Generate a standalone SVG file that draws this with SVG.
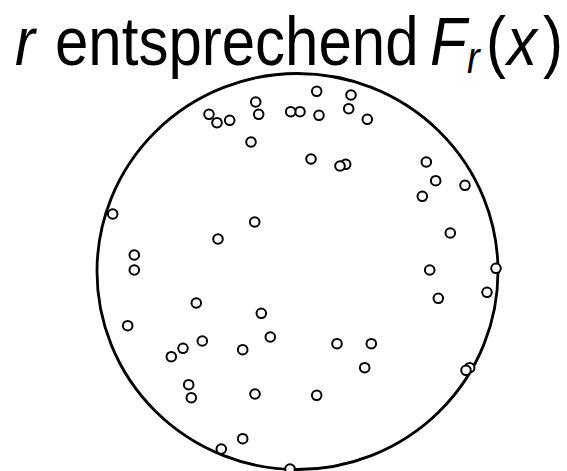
<svg xmlns="http://www.w3.org/2000/svg" width="567" height="471" viewBox="0 0 567 471">
<style>
.ttl{font-family:"Liberation Sans",Arial,sans-serif;font-size:60px;fill:#000}
.it{font-style:italic}
.pt{fill:#fff;stroke:#000;stroke-width:2}
.ring{fill:none;stroke:#000;stroke-width:2.8}
</style>
<rect width="567" height="471" fill="#fff"/>
<g id="title" transform="translate(0,65) scale(1,1.15)">
<text class="ttl" y="0"><tspan class="it" x="15">r</tspan><tspan x="55">entsprechend</tspan><tspan class="it" x="430">F</tspan><tspan class="it" x="467" y="7" font-size="38">r</tspan><tspan x="486" y="0">(</tspan><tspan class="it" x="507">x</tspan><tspan x="543">)</tspan></text>
</g>
<g id="disk">
<ellipse class="ring" cx="297.5" cy="271.5" rx="200.5" ry="198"/>
</g>
<g id="points">
<circle class="pt" cx="209" cy="114.3" r="4.8"/>
<circle class="pt" cx="217" cy="122.7" r="4.8"/>
<circle class="pt" cx="229.7" cy="120.3" r="4.8"/>
<circle class="pt" cx="255.7" cy="102" r="4.8"/>
<circle class="pt" cx="258.7" cy="114.3" r="4.8"/>
<circle class="pt" cx="251" cy="142" r="4.8"/>
<circle class="pt" cx="112.7" cy="214" r="4.8"/>
<circle class="pt" cx="254.7" cy="222" r="4.8"/>
<circle class="pt" cx="218" cy="239" r="4.8"/>
<circle class="pt" cx="134.3" cy="255" r="4.8"/>
<circle class="pt" cx="134.3" cy="270" r="4.8"/>
<circle class="pt" cx="300" cy="111.7" r="4.8"/>
<circle class="pt" cx="290.7" cy="111.7" r="4.8"/>
<circle class="pt" cx="316.7" cy="91.3" r="4.8"/>
<circle class="pt" cx="351" cy="95" r="4.8"/>
<circle class="pt" cx="319" cy="115.3" r="4.8"/>
<circle class="pt" cx="348.7" cy="108.7" r="4.8"/>
<circle class="pt" cx="367.3" cy="119.3" r="4.8"/>
<circle class="pt" cx="311" cy="159" r="4.8"/>
<circle class="pt" cx="345.7" cy="164.3" r="4.8"/>
<circle class="pt" cx="340" cy="166" r="4.8"/>
<circle class="pt" cx="426.3" cy="162" r="4.8"/>
<circle class="pt" cx="435.7" cy="180.7" r="4.8"/>
<circle class="pt" cx="422.3" cy="196.3" r="4.8"/>
<circle class="pt" cx="465" cy="185.3" r="4.8"/>
<circle class="pt" cx="450.3" cy="233" r="4.8"/>
<circle class="pt" cx="429.7" cy="270" r="4.8"/>
<circle class="pt" cx="496" cy="268.3" r="4.8"/>
<circle class="pt" cx="196.3" cy="303" r="4.8"/>
<circle class="pt" cx="261.3" cy="313.3" r="4.8"/>
<circle class="pt" cx="127.7" cy="325.7" r="4.8"/>
<circle class="pt" cx="270.3" cy="337" r="4.8"/>
<circle class="pt" cx="202.3" cy="341" r="4.8"/>
<circle class="pt" cx="183" cy="348.3" r="4.8"/>
<circle class="pt" cx="171.3" cy="356.7" r="4.8"/>
<circle class="pt" cx="242.7" cy="349.7" r="4.8"/>
<circle class="pt" cx="188.7" cy="384.7" r="4.8"/>
<circle class="pt" cx="191.3" cy="397.7" r="4.8"/>
<circle class="pt" cx="255" cy="394" r="4.8"/>
<circle class="pt" cx="242.7" cy="438.7" r="4.8"/>
<circle class="pt" cx="221.3" cy="449" r="4.8"/>
<circle class="pt" cx="290" cy="469" r="4.8"/>
<circle class="pt" cx="438.3" cy="298.3" r="4.8"/>
<circle class="pt" cx="487" cy="292.3" r="4.8"/>
<circle class="pt" cx="337" cy="343.7" r="4.8"/>
<circle class="pt" cx="371.3" cy="343.7" r="4.8"/>
<circle class="pt" cx="364.7" cy="367.7" r="4.8"/>
<circle class="pt" cx="316.7" cy="395.3" r="4.8"/>
<circle class="pt" cx="469.7" cy="367.7" r="4.8"/>
<circle class="pt" cx="466" cy="370.3" r="4.8"/>
</g>
</svg>
